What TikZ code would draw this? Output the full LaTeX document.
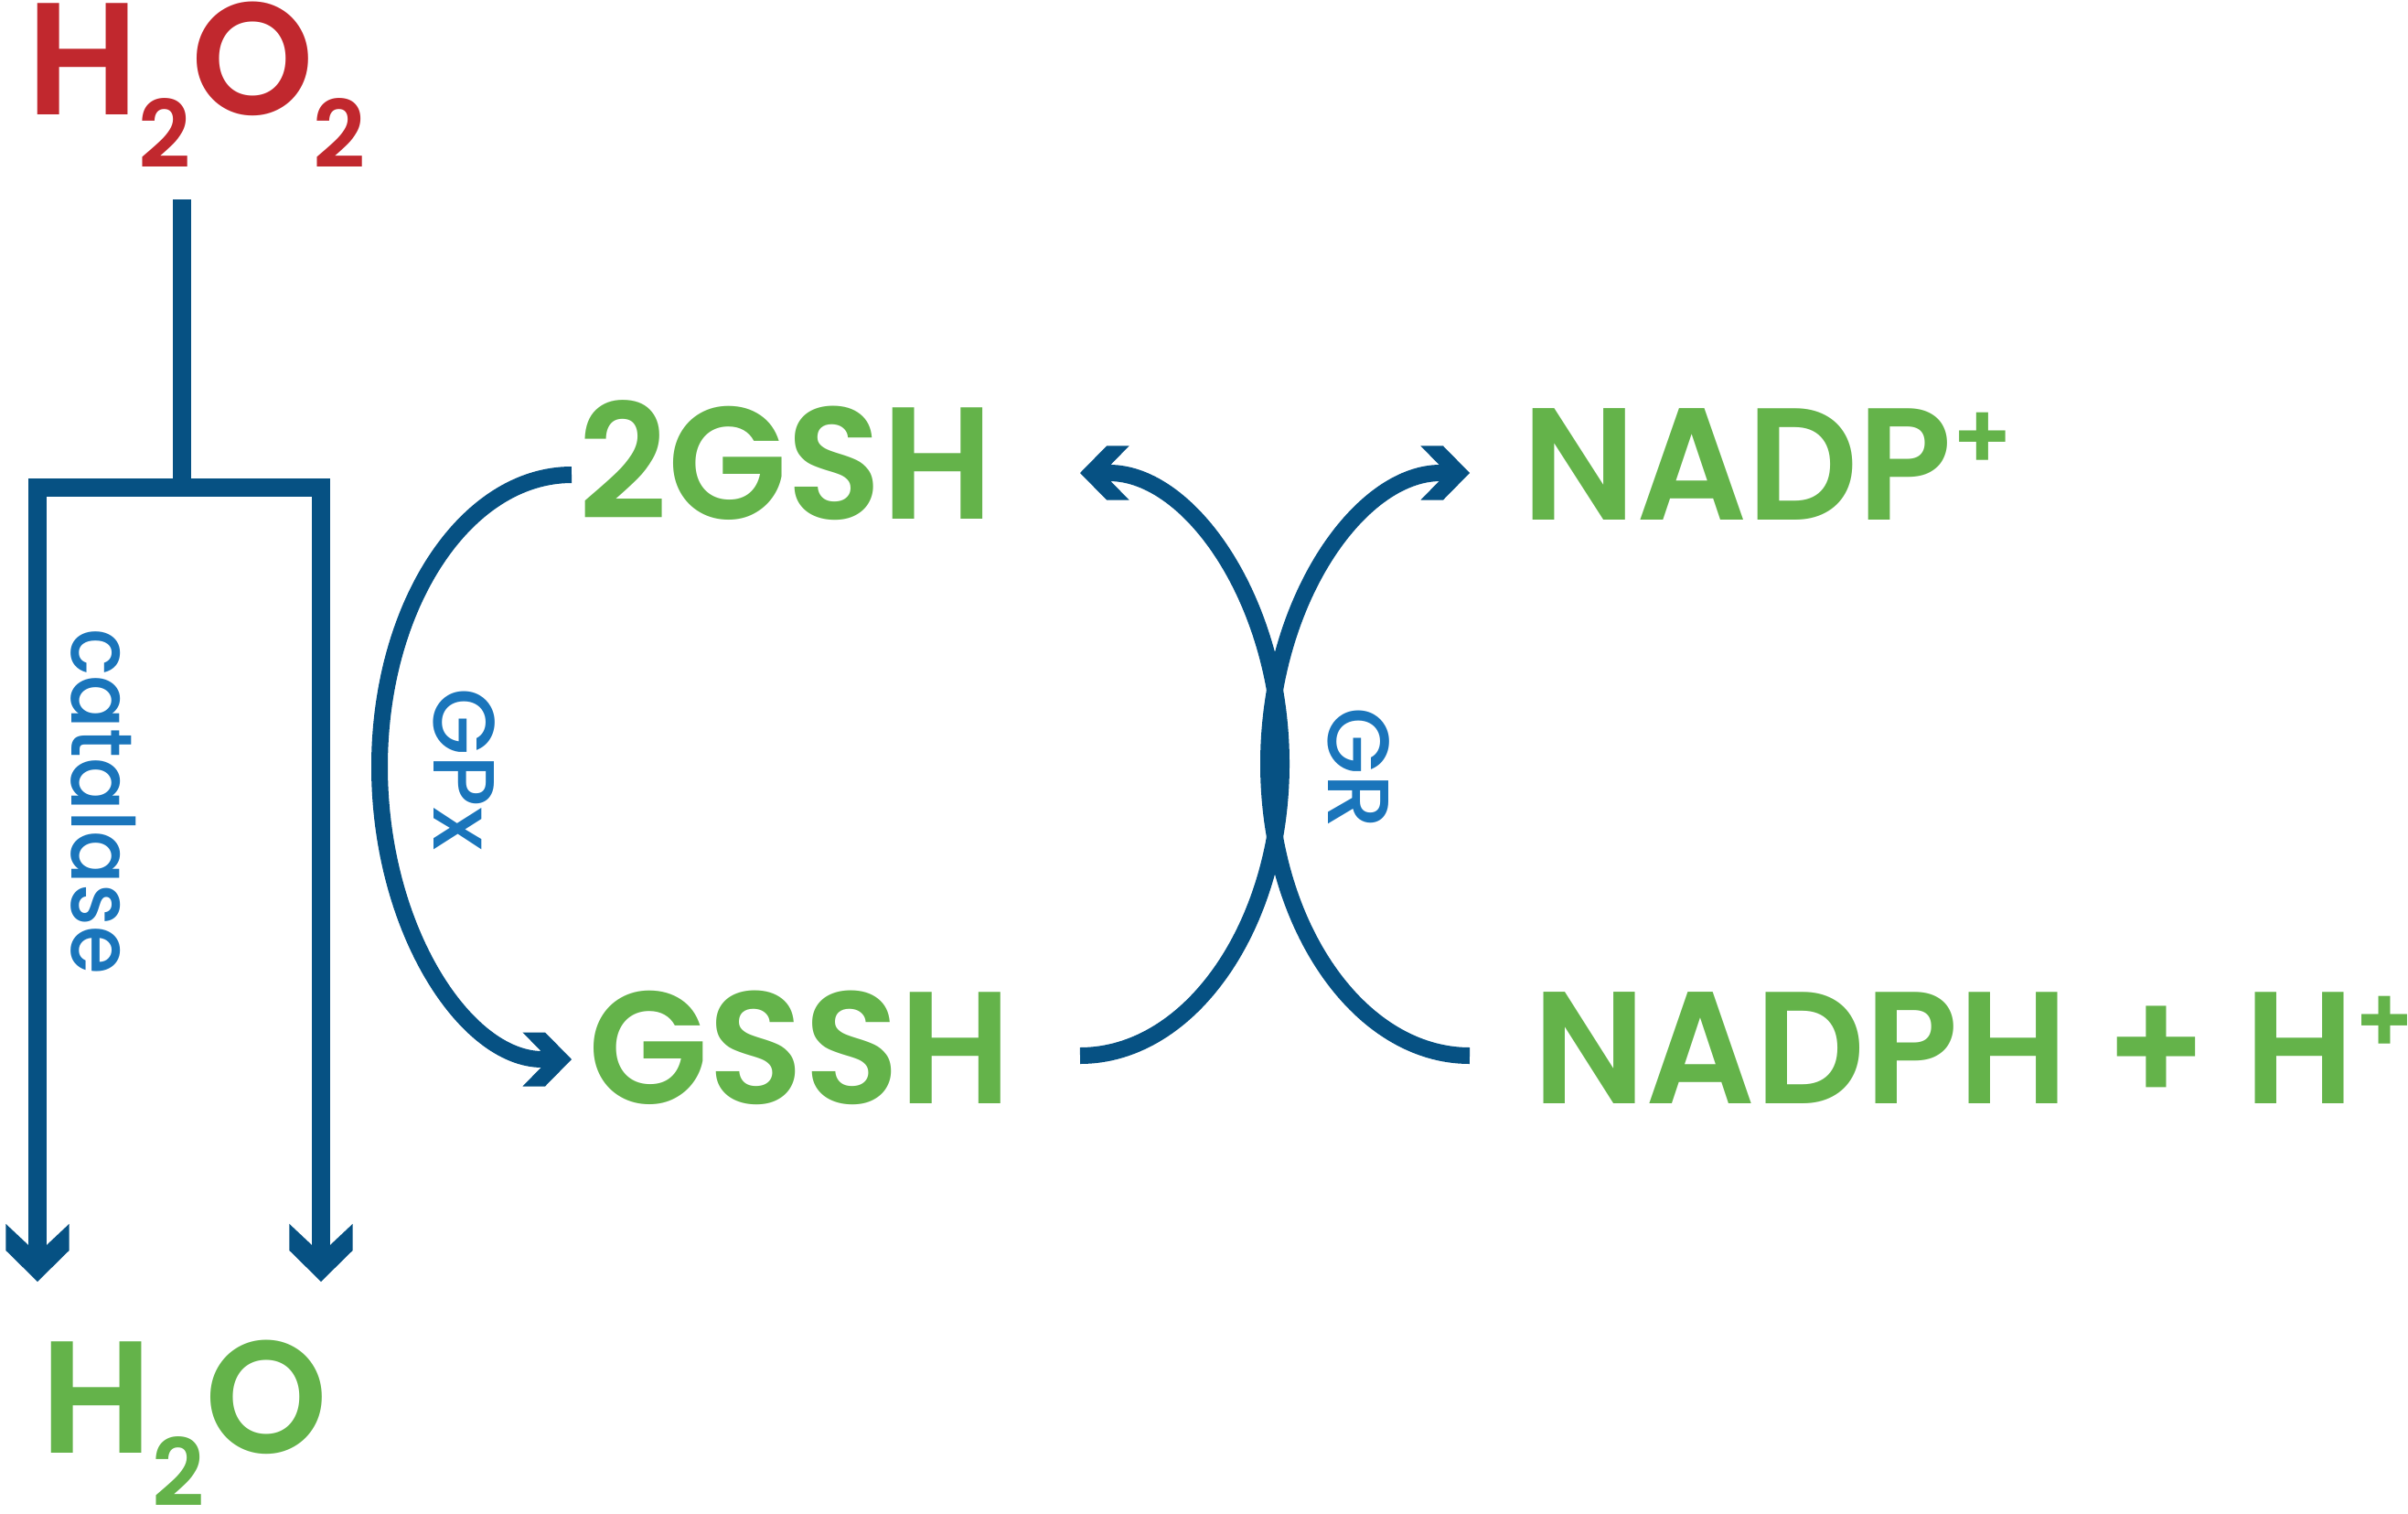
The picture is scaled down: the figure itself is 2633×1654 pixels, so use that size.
\documentclass[tikz,border=0pt]{standalone}
\usepackage{graphicx}
\usepackage{fontspec}
\setmainfont{Poppins}[BoldFont={Poppins SemiBold}]
\newfontfamily\labfont{Poppins Medium}
\usetikzlibrary{arrows.meta}
\definecolor{redc}{HTML}{C1282E}
\definecolor{greenc}{HTML}{64B34A}
\definecolor{linec}{HTML}{065183}
\definecolor{labc}{HTML}{1A75BB}

\pgfdeclarearrow{
  name=CatTip,
  setup code={
    \pgfarrowssettipend{0pt}
    \pgfarrowssetlineend{-0.38cm}
    \pgfarrowssetbackend{-0.63cm}
  },
  drawing code={
    \pgfpathmoveto{\pgfpoint{0cm}{0cm}}
    \pgfpathlineto{\pgfpoint{-0.34cm}{0.345cm}}
    \pgfpathlineto{\pgfpoint{-0.63cm}{0.345cm}}
    \pgfpathlineto{\pgfpoint{-0.40cm}{0.10cm}}
    \pgfpathlineto{\pgfpoint{-0.40cm}{-0.10cm}}
    \pgfpathlineto{\pgfpoint{-0.63cm}{-0.345cm}}
    \pgfpathlineto{\pgfpoint{-0.34cm}{-0.345cm}}
    \pgfpathclose
    \pgfusepathqfill
  }
}
\pgfdeclarearrow{
  name=CurveTip,
  setup code={
    \pgfarrowssettipend{0pt}
    \pgfarrowssetlineend{-0.32cm}
    \pgfarrowssetbackend{-0.535cm}
  },
  drawing code={
    \pgfpathmoveto{\pgfpoint{0cm}{0cm}}
    \pgfpathlineto{\pgfpoint{-0.29cm}{0.295cm}}
    \pgfpathlineto{\pgfpoint{-0.535cm}{0.295cm}}
    \pgfpathlineto{\pgfpoint{-0.335cm}{0.09cm}}
    \pgfpathlineto{\pgfpoint{-0.335cm}{-0.09cm}}
    \pgfpathlineto{\pgfpoint{-0.535cm}{-0.295cm}}
    \pgfpathlineto{\pgfpoint{-0.29cm}{-0.295cm}}
    \pgfpathclose
    \pgfusepathqfill
  }
}

\newcommand\mysubtwo{\raisebox{-0.58cm}{\fontsize{29}{30}\selectfont 2}}
\newcommand\mysupplus{\raisebox{0.54cm}{\fontsize{29}{30}\selectfont +}}
\newcommand\squeeze[2]{\scalebox{#1}[1]{#2}}

\tikzset{
  chem/.style={font=\fontsize{49.6}{52}\selectfont\bfseries, inner sep=0pt, anchor=base west},
  lab/.style={text=labc, font=\labfont\fontsize{27}{30}\selectfont, inner sep=0pt, anchor=base, rotate=-90},
  catline/.style={color=linec, line width=0.2cm, line join=miter},
  curve/.style={color=linec, line width=0.18cm, -CurveTip},
}

\begin{document}
\begin{tikzpicture}[x=0.01cm, y=-0.01cm]
\useasboundingbox (0,0) rectangle (2633,1654);

% texts
\node[chem, text=redc] (h2o2) at (29,125) {\squeeze{0.977}{H\mysubtwo O\mysubtwo}};
\node[chem, text=greenc] (h2o) at (44,1588) {\squeeze{0.977}{H\mysubtwo O}};
\node[chem, text=greenc] (gsh) at (632,567) {\squeeze{0.974}{2GSH}};
\node[chem, text=greenc] (gssh) at (643,1206) {\squeeze{0.98}{GSSH}};
\node[chem, text=greenc] (nadp) at (1664,568) {\squeeze{0.971}{NADP\mysupplus}};
\node[chem, text=greenc] (nadph) at (1676,1206) {\squeeze{0.96}{NADPH + H\mysupplus}};

% labels
\node[lab] (catl) at (78,876) {\squeeze{0.9}{catalase}};
\node[lab] (gpxl) at (474,841) {GPx};
\node[lab] (grl) at (1452,840) {GR};

% catalase connectors
\coordinate (top) at (199,218);
\coordinate (fork) at (199,533);
\coordinate (leftend) at (41,1401);
\coordinate (rightend) at (351,1401);
\draw[catline] (top) -- (fork);
\draw[catline, -CatTip] (fork) -| (leftend);
\draw[catline, -CatTip] (fork) -| (rightend);

% GPx arc
\coordinate (gpxS) at (625,519);
\coordinate (gpxE) at (625,1158);
\draw[curve] (gpxS) .. controls (509,519) and (415,662) .. (415,838)
  .. controls (415,1015) and (509,1158) .. (gpxE);

% GR arcs
\coordinate (grlS) at (1181,1154);
\coordinate (grlE) at (1181,517);
\draw[curve] (grlS) .. controls (1302,1154) and (1401,1011) .. (1401,835)
  .. controls (1401,659) and (1302,517) .. (grlE);
\coordinate (grrS) at (1607,1154);
\coordinate (grrE) at (1607,517);
\draw[curve] (grrS) .. controls (1486,1154) and (1387,1011) .. (1387,835)
  .. controls (1387,659) and (1486,517) .. (grrE);
\end{tikzpicture}
\end{document}
